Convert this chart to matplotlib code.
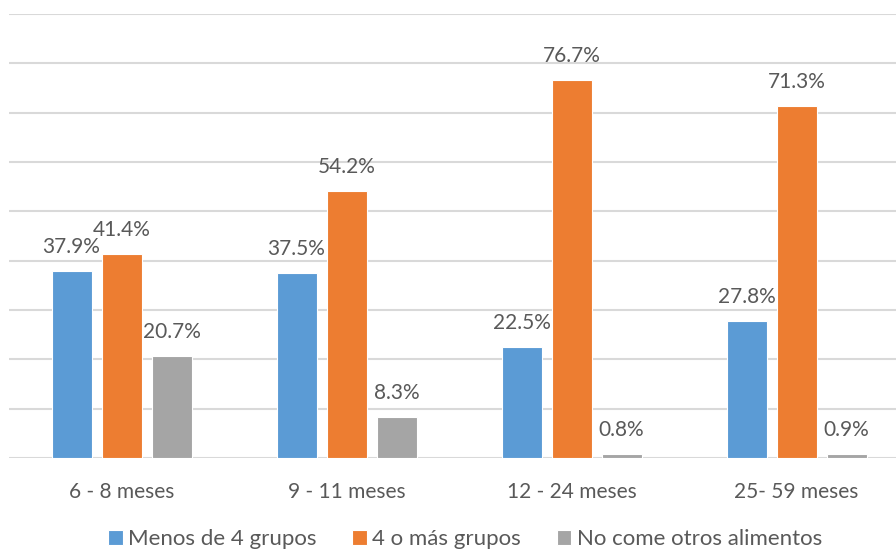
import numpy as np
from matplotlib import pyplot as plt

plt.rcParams["font.family"] = ["Lato", "DejaVu Sans"]

grupos_edad = ["6 - 8 meses", "9 - 11 meses", "12 - 24 meses", "25- 59 meses"]
menos_de_4 = [37.9, 37.5, 22.5, 27.8]
cuatro_o_mas = [41.4, 54.2, 76.7, 71.3]
no_come = [20.7, 8.3, 0.8, 0.9]
series_labels = ["Menos de 4 grupos", "4 o más grupos", "No come otros alimentos"]
colores = ["#5B9BD5", "#ED7D31", "#A5A5A5"]

texto = "#595959"

fig = plt.figure(figsize=(8.96, 5.52), dpi=100)
# the axes run a little past the right edge, like the original export
ax = fig.add_axes([9 / 896, 94 / 552, 900 / 896, 444 / 552])

x = np.arange(len(grupos_edad))
ancho = 40 / 225
paso = 50 / 225

for i, (vals, lab, col) in enumerate(zip([menos_de_4, cuatro_o_mas, no_come],
                                         series_labels, colores)):
    pos = x + (i - 1) * paso
    ax.bar(pos, vals, width=ancho, color=col, edgecolor="white",
           linewidth=0.8, label=lab, zorder=3)
    for xp, v in zip(pos, vals):
        ax.annotate("{:.1f}%".format(v), (xp, v), xytext=(0, 13),
                    textcoords="offset points", ha="center", va="baseline",
                    fontsize=15, color=texto)

ax.set_xlim(-0.5, len(grupos_edad) - 0.5)
ax.set_ylim(0, 90)
ax.set_yticks(range(0, 91, 10))
ax.yaxis.grid(True, color="#D9D9D9", linewidth=1.5, zorder=0)
ax.tick_params(axis="y", left=False, labelleft=False)
ax.set_xticks(x)
ax.set_xticklabels(grupos_edad, fontsize=15, color=texto)
ax.tick_params(axis="x", length=0, pad=17)
for s in ax.spines.values():
    s.set_visible(False)

fig.legend(loc="center", bbox_to_anchor=(465 / 896, 1 - 539 / 552), ncol=3,
           frameon=False, fontsize=16, labelcolor=texto,
           handlelength=0.65, handleheight=0.65, handletextpad=0.25,
           columnspacing=1.6)

plt.savefig("out.png", dpi=100)
